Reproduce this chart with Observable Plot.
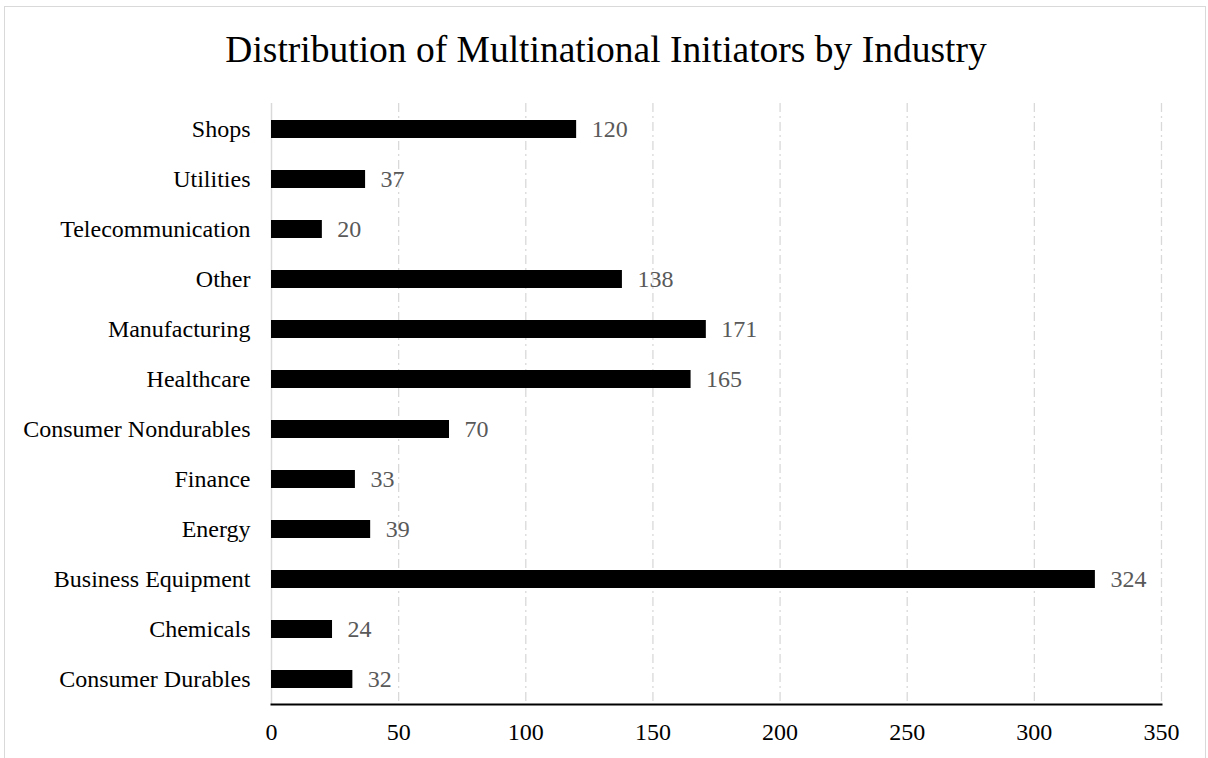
<!DOCTYPE html>
<html>
<head>
<meta charset="utf-8">
<script src="https://cdn.jsdelivr.net/npm/d3@7"></script>
<script src="https://cdn.jsdelivr.net/npm/@observablehq/plot@0.6"></script>
<style>
  html, body { margin: 0; padding: 0; background: #fff; }
  #wrap { position: relative; width: 1208px; height: 758px; overflow: hidden; font-family: "Liberation Serif", "Times New Roman", serif; }
  #border { position: absolute; left: 4px; top: 6px; width: 1202px; height: 800px; border: 1.5px solid #d9d9d9; box-sizing: border-box; }
  #title { position: absolute; left: 0; top: 31px; width: 1212px; text-align: center; font-size: 37.5px; line-height: 37px; color: #000; }
  #chart { position: absolute; left: 0; top: 0; }
</style>
</head>
<body>
<div id="wrap">
  <div id="border"></div>
  <div id="title">Distribution of Multinational Initiators by Industry</div>
  <div id="chart"></div>
</div>
<script>
const categories = ["Consumer Durables", "Chemicals", "Business Equipment", "Energy", "Finance", "Consumer Nondurables", "Healthcare", "Manufacturing", "Other", "Telecommunication", "Utilities", "Shops"];
const counts = [32, 24, 324, 39, 33, 70, 165, 171, 138, 20, 37, 120];
const xTicks = [0, 50, 100, 150, 200, 250, 300, 350];

const data = categories.map((c, i) => ({category: c, value: counts[i]}));

const chart = Plot.plot({
  width: 1208,
  height: 758,
  marginTop: 103,
  marginBottom: 54,
  marginLeft: 271,
  marginRight: 47,
  style: {fontFamily: "'Liberation Serif', 'Times New Roman', serif", fontSize: "24px", background: "transparent", overflow: "visible"},
  x: {domain: [0, 350], ticks: xTicks},
  y: {domain: categories.slice().reverse(), paddingInner: 0.64, paddingOuter: 0.32},
  marks: [
    Plot.ruleX(xTicks.filter(d => d > 0), {stroke: "#d9d9d9", strokeWidth: 1.3, strokeDasharray: "9,4,2,4"}),
    Plot.ruleX([0], {stroke: "#d9d9d9", strokeWidth: 1.5}),
    Plot.barX(data, {x: "value", y: "category", fill: "#000"}),
    Plot.text(data, {x: "value", y: "category", text: d => String(d.value), textAnchor: "start", dx: 15, fill: "#595959", fontSize: 24}),
    Plot.frame({anchor: "bottom", stroke: "#000", strokeWidth: 2}),
    Plot.axisX({ticks: xTicks, tickSize: 0, tickPadding: 18, fontSize: 24, fill: "#000", label: null}),
    Plot.axisY({tickSize: 0, tickPadding: 21, fontSize: 24, fill: "#000", label: null})
  ]
});
document.getElementById("chart").appendChild(chart);
</script>
</body>
</html>
